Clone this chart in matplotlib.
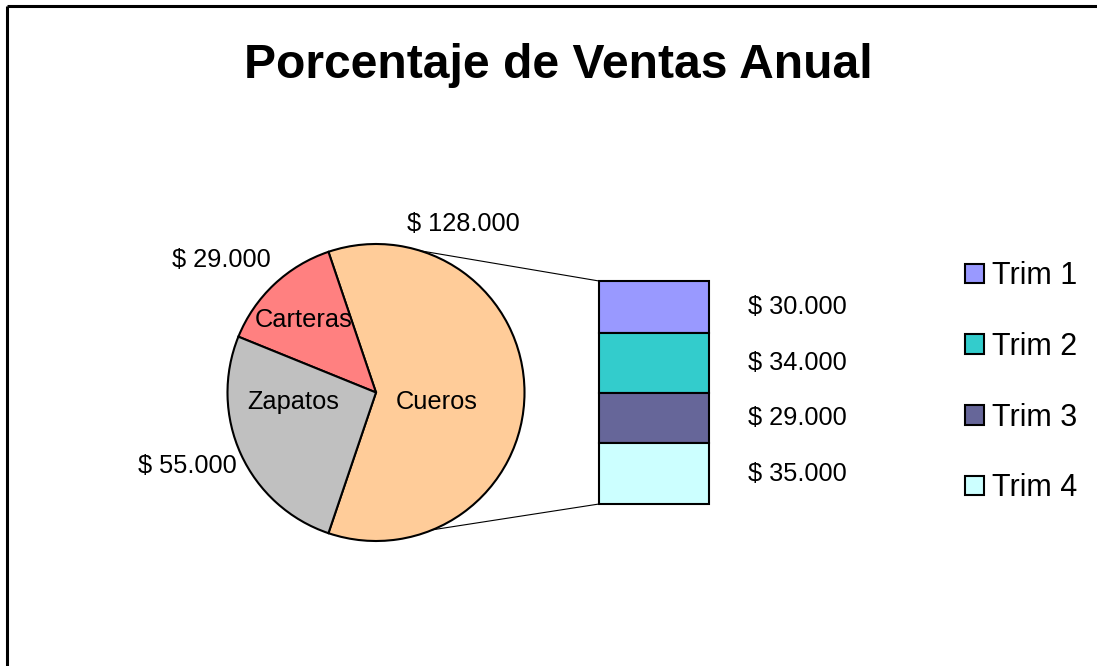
import numpy as np
import matplotlib
matplotlib.use("Agg")
import matplotlib.pyplot as plt
from matplotlib.patches import Patch
from matplotlib.lines import Line2D

plt.rcParams['font.family'] = ['Liberation Sans', 'DejaVu Sans']

# data
categorias = ['Cueros', 'Carteras', 'Zapatos']
ventas = [128000, 29000, 55000]
colores_pie = ['#FFCC99', '#FF8080', '#C0C0C0']

trimestres = ['Trim 1', 'Trim 2', 'Trim 3', 'Trim 4']
ventas_trim = [30000, 34000, 29000, 35000]
colores_trim = ['#9999FF', '#33CCCC', '#666699', '#CCFFFF']


def fmt(v):
    return "$ " + f"{v:,}".replace(",", ".")


W, H = 1097, 666
fig = plt.figure(figsize=(W / 100, H / 100), dpi=100)

# main axes in pixel-like units (y up)
ax = fig.add_axes([0, 0, 1, 1])
ax.set_xlim(0, W)
ax.set_ylim(0, H)
ax.set_aspect('equal')
ax.axis('off')

# frame: only top and left edges visible
ax.plot([7, 7], [0, H - 6], color='black', lw=2.2, solid_capstyle='butt')
ax.plot([7, W], [H - 6, H - 6], color='black', lw=2.2, solid_capstyle='butt')

ax.text(558, H - 78, "Porcentaje de Ventas Anual", fontsize=34.6, fontweight='bold',
        ha='center', va='baseline')

# pie
cx, cy, r = 376, H - 392.5, 148.5
total = sum(ventas)
ang_cueros = ventas[0] / total * 360
wedges, _ = ax.pie(ventas, colors=colores_pie, startangle=-ang_cueros / 2,
                   center=(cx, cy), radius=r, frame=True,
                   wedgeprops=dict(edgecolor='black', linewidth=1.5))
ax.set_xlim(0, W)
ax.set_ylim(0, H)
ax.axis('off')

# labels inside / outside (offsets in radius units)
fs = 18.3
dentro = {'Cueros': (0.41, -0.065), 'Carteras': (-0.485, 0.49), 'Zapatos': (-0.56, -0.065)}
fuera = {'Cueros': (0.59, 1.135), 'Carteras': (-1.04, 0.89), 'Zapatos': (-1.27, -0.495)}
for cat, v in zip(categorias, ventas):
    dx, dy = dentro[cat]
    ax.text(cx + dx * r, cy + dy * r, cat, fontsize=fs, ha='center', va='center')
    dx, dy = fuera[cat]
    ax.text(cx + dx * r, cy + dy * r, fmt(v), fontsize=fs, ha='center', va='center')

# stacked bar for Cueros
bx0, bx1 = 599, 709
btop, bbot = H - 281, H - 504
axb = fig.add_axes([bx0 / W, bbot / H, (bx1 - bx0) / W, (btop - bbot) / H])
base = 0
for nombre, v, c in zip(trimestres, ventas_trim, colores_trim):
    axb.bar(0.5, v, width=1, bottom=base, color=c, edgecolor='black', linewidth=1.5,
            label=nombre, clip_on=False)
    axb.text(1.35, base + v / 2, fmt(v), fontsize=fs, ha='left', va='center',
             transform=axb.get_yaxis_transform())
    base += v
axb.set_xlim(0, 1)
axb.set_ylim(sum(ventas_trim), 0)
axb.axis('off')

# connector lines
a_top, a_bot = np.radians(72.6), np.radians(-67.6)
ax.add_line(Line2D([cx + r * np.cos(a_top), bx0], [cy + r * np.sin(a_top), btop],
                   color='black', lw=0.8))
ax.add_line(Line2D([cx + r * np.cos(a_bot), bx0], [cy + r * np.sin(a_bot), bbot],
                   color='black', lw=0.8))

# legend
handles = [Patch(facecolor=c, edgecolor='black', linewidth=1.5) for c in colores_trim]
fig.legend(handles, trimestres, loc='upper left', bbox_to_anchor=(950 / W, (H - 246) / H),
           frameon=False, fontsize=22, handlelength=0.62, handleheight=0.62,
           handletextpad=0.25, labelspacing=1.33, borderpad=0)

fig.savefig('out.png', dpi=100)
